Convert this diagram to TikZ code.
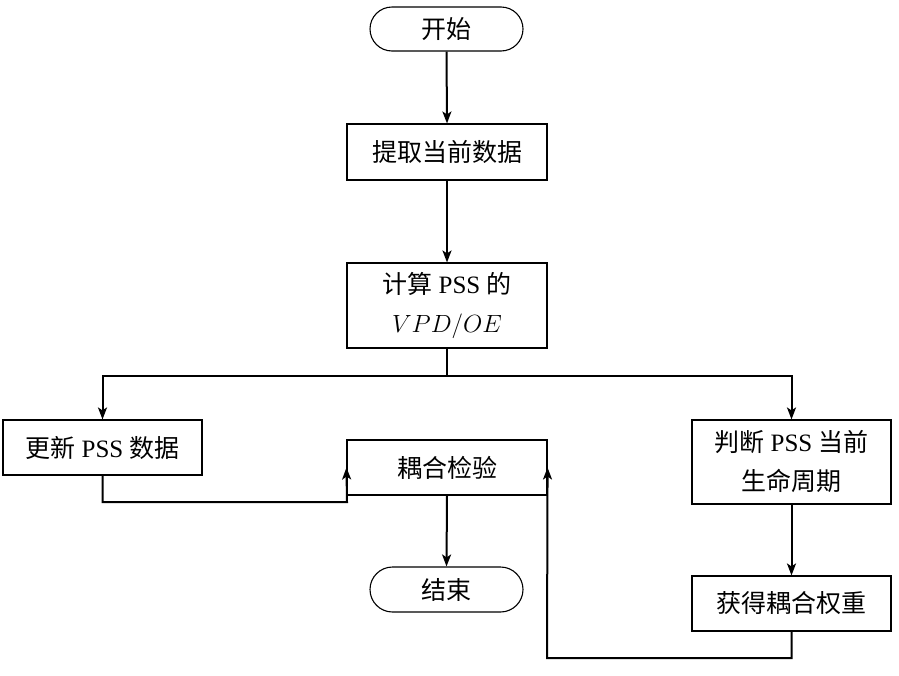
\documentclass[tikz,border=0pt]{standalone}
\usepackage{fontspec}
\setmainfont{Liberation Serif}
\newfontfamily\cjk{Noto Sans CJK SC}
\usetikzlibrary{shapes.misc,arrows.meta}
\begin{document}
\begin{tikzpicture}[x=1pt,y=-1pt,
  box/.style={draw, line width=1.1pt, minimum width=200pt, minimum height=55pt, inner sep=0pt, align=center, font=\fontsize{25}{39}\selectfont},
  term/.style={draw, rounded rectangle, line width=1.1pt, minimum width=153pt, minimum height=44pt, inner sep=0pt, font=\fontsize{25}{39}\selectfont},
  arr/.style={line width=2pt, -{Stealth[length=12pt,width=9pt,inset=3pt]}},
  ln/.style={line width=2pt}]
\useasboundingbox (0,0) rectangle (899,675);
\node[term] (start) at (446.5,29) {\cjk 开始};
\node[box, minimum height=56pt] (extract) at (447,152) {\cjk 提取当前数据};
\node[box, minimum height=85pt] (calc) at (447,305.5) {{\cjk 计算} PSS {\cjk 的}\\$VPD/OE$};
\node[box, minimum width=199pt] (update) at (102.5,447.5) {{\cjk 更新} PSS {\cjk 数据}};
\node[box] (couple) at (447,467.5) {\cjk 耦合检验};
\node[box, minimum width=199pt, minimum height=84pt] (judge) at (791.5,462) {{\cjk 判断} PSS {\cjk 当前}\\{\cjk 生命周期}};
\node[box, minimum width=199pt] (weight) at (791.5,603.5) {\cjk 获得耦合权重};
\node[term, minimum height=45pt] (end) at (446.5,589.5) {\cjk 结束};
\coordinate (branch) at (447,376);
\coordinate (lbend) at (347,502);
\coordinate (rbend) at (547,658);
\draw[arr] (start.south) -- (extract.north);
\draw[arr] (extract.south) -- (calc.north);
\draw[ln] (calc.south) -- (branch);
\draw[arr] (branch) -| (update.north);
\draw[arr] (branch) -| (judge.north);
\draw[arr] (update.south) |- (lbend) -- (couple.west);
\draw[arr] (weight.south) |- (rbend) -- (couple.east);
\draw[arr] (couple.south) -- (end.north);
\draw[arr] (judge.south) -- (weight.north);
\end{tikzpicture}
\end{document}
